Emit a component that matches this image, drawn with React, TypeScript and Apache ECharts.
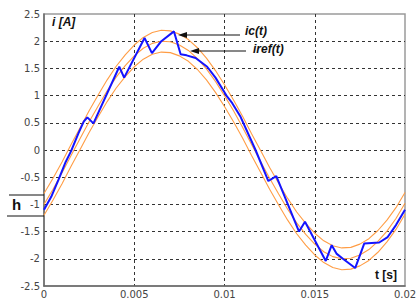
import React, { useEffect, useRef } from "react";
import * as echarts from "echarts";

// Reference sinusoid and hysteresis band
const tRef = [
  0, 0.0005, 0.001, 0.0015, 0.002, 0.0025, 0.003, 0.0035, 0.004, 0.0045,
  0.005, 0.0055, 0.006, 0.0065, 0.007, 0.0075, 0.008, 0.0085, 0.009, 0.0095,
  0.01, 0.0105, 0.011, 0.0115, 0.012, 0.0125, 0.013, 0.0135, 0.014, 0.0145,
  0.015, 0.0155, 0.016, 0.0165, 0.017, 0.0175, 0.018, 0.0185, 0.019, 0.0195, 0.02,
];
const iRef = [
  -1.0, -0.72, -0.42, -0.1, 0.21, 0.52, 0.81, 1.09, 1.34, 1.55,
  1.73, 1.87, 1.96, 2.0, 1.99, 1.93, 1.83, 1.68, 1.49, 1.26,
  1.0, 0.72, 0.42, 0.1, -0.21, -0.52, -0.81, -1.09, -1.34, -1.55,
  -1.73, -1.87, -1.96, -2.0, -1.99, -1.93, -1.83, -1.68, -1.49, -1.26, -0.98,
];
const iUpper = [
  -0.8, -0.52, -0.22, 0.1, 0.41, 0.72, 1.01, 1.29, 1.54, 1.75,
  1.93, 2.07, 2.16, 2.2, 2.19, 2.13, 2.03, 1.88, 1.69, 1.46,
  1.2, 0.92, 0.62, 0.3, -0.01, -0.32, -0.61, -0.89, -1.14, -1.35,
  -1.53, -1.67, -1.76, -1.8, -1.79, -1.73, -1.63, -1.48, -1.29, -1.06, -0.78,
];
const iLower = [
  -1.2, -0.92, -0.62, -0.3, 0.01, 0.32, 0.61, 0.89, 1.14, 1.35,
  1.53, 1.67, 1.76, 1.8, 1.79, 1.73, 1.63, 1.48, 1.29, 1.06,
  0.8, 0.52, 0.22, -0.1, -0.41, -0.72, -1.01, -1.29, -1.54, -1.75,
  -1.93, -2.07, -2.16, -2.2, -2.19, -2.13, -2.03, -1.88, -1.69, -1.46, -1.18,
];

// Actual current ic(t)
const tIc = [
  0, 0.0004, 0.0008, 0.0012, 0.0015, 0.0019, 0.0022, 0.0024, 0.00274, 0.00417,
  0.00444, 0.00557, 0.00598, 0.0065, 0.0072, 0.00757, 0.0079, 0.0084, 0.00904, 0.0095,
  0.01015, 0.01043, 0.01089, 0.01172, 0.01243, 0.01287, 0.01413, 0.01446, 0.01561, 0.01594,
  0.01622, 0.01656, 0.01724, 0.01774, 0.01857, 0.01904, 0.0195, 0.02,
];
const iIc = [
  -1.1, -0.86, -0.55, -0.22, -0.02, 0.3, 0.52, 0.6, 0.49, 1.53,
  1.33, 2.06, 1.78, 2.0, 2.18, 1.76, 1.74, 1.69, 1.53, 1.33,
  0.98, 0.86, 0.61, 0.0, -0.57, -0.48, -1.5, -1.32, -2.04, -1.75,
  -1.91, -2.0, -2.17, -1.72, -1.7, -1.6, -1.38, -1.1,
];

const xTicks = { min: 0, max: 0.02, interval: 0.005 };
const yTicks = { min: -2.5, max: 2.5, interval: 0.5 };

const ORANGE = "#ff9d45";
const BLUE = "#1414ff";
const LABEL_FONT = "'Liberation Sans', Arial, sans-serif";

function pairs(xs: number[], ys: number[]) {
  return xs.map((x, k) => [x, ys[k]]);
}

export default function App() {
  const ref = useRef<HTMLDivElement>(null);
  useEffect(() => {
    const chart = echarts.init(ref.current!, null, { renderer: "svg" });
    const orangeLine = (name: string, ys: number[]) => ({
      name,
      type: "line",
      data: pairs(tRef, ys),
      showSymbol: false,
      symbol: "none",
      lineStyle: { color: ORANGE, width: 1.1 },
      z: 2,
    });
    const axisCommon = {
      type: "value",
      axisLine: { show: true, onZero: false, lineStyle: { color: "#6a6a6a", width: 1.5 } },
      axisTick: { show: false },
      splitLine: {
        show: true,
        showMinLine: false,
        showMaxLine: false,
        lineStyle: { color: "#333", type: [3, 3], width: 1 },
      },
    };
    chart.setOption({
      animation: false,
      backgroundColor: "#ffffff",
      grid: {
        left: 44,
        right: 11,
        top: 14,
        bottom: 14,
        show: true,
        borderColor: "#9a9a9a",
        borderWidth: 1.5,
        outerBoundsMode: "none",
      },
      xAxis: {
        ...axisCommon,
        min: xTicks.min,
        max: xTicks.max,
        interval: xTicks.interval,
        axisLabel: {
          color: "#444",
          fontFamily: "'DejaVu Sans', sans-serif",
          fontSize: 10,
          margin: 3,
        },
      },
      yAxis: {
        ...axisCommon,
        min: yTicks.min,
        max: yTicks.max,
        interval: yTicks.interval,
        axisLabel: {
          color: "#444",
          fontFamily: "'DejaVu Sans', sans-serif",
          fontSize: 10,
          margin: 4,
        },
      },
      series: [
        orangeLine("upper", iUpper),
        orangeLine("iref(t)", iRef),
        orangeLine("lower", iLower),
        {
          name: "ic(t)",
          type: "line",
          data: pairs(tIc, iIc),
          showSymbol: false,
          symbol: "none",
          lineStyle: { color: BLUE, width: 2 },
          z: 3,
        },
      ],
      graphic: [
        {
          type: "text",
          left: 52,
          top: 16,
          style: { text: "i [A]", font: `italic bold 12px ${LABEL_FONT}`, fill: "#111" },
          z: 10,
        },
        {
          type: "text",
          left: 375,
          top: 269,
          style: { text: "t [s]", font: `bold 12px ${LABEL_FONT}`, fill: "#111" },
          z: 10,
        },
        {
          type: "text",
          left: 245,
          top: 25,
          style: { text: "ic(t)", font: `italic bold 12px ${LABEL_FONT}`, fill: "#111" },
          z: 10,
        },
        {
          type: "text",
          left: 253,
          top: 43,
          style: { text: "iref(t)", font: `italic bold 12px ${LABEL_FONT}`, fill: "#111" },
          z: 10,
        },
        {
          type: "line",
          shape: { x1: 185, y1: 35, x2: 240, y2: 35 },
          style: { stroke: "#111", lineWidth: 1 },
          z: 10,
        },
        {
          type: "polygon",
          shape: { points: [[178, 35], [187, 32], [187, 38]] },
          style: { fill: "#111" },
          z: 10,
        },
        {
          type: "line",
          shape: { x1: 197, y1: 51, x2: 246, y2: 51 },
          style: { stroke: "#111", lineWidth: 1 },
          z: 10,
        },
        {
          type: "polygon",
          shape: { points: [[190, 51], [199, 48], [199, 54]] },
          style: { fill: "#111" },
          z: 10,
        },
        {
          type: "text",
          left: 12,
          top: 197,
          style: { text: "h", font: `bold 15px ${LABEL_FONT}`, fill: "#111" },
          z: 10,
        },
        {
          type: "line",
          shape: { x1: 9, y1: 195, x2: 44, y2: 195 },
          style: { stroke: "#111", lineWidth: 1 },
          z: 10,
        },
        {
          type: "line",
          shape: { x1: 7, y1: 216, x2: 44, y2: 216 },
          style: { stroke: "#111", lineWidth: 1 },
          z: 10,
        },
      ],
    });
    return () => chart.dispose();
  }, []);
  return (
    <div
      ref={ref}
      style={{ position: "fixed", left: 0, top: 0, width: 416, height: 300, background: "#fff" }}
    />
  );
}
